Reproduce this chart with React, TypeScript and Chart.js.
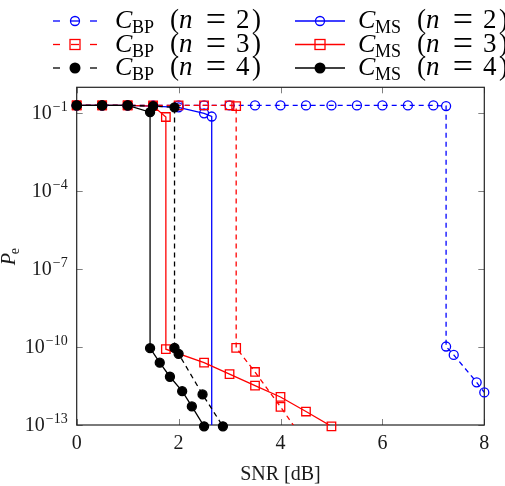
import React, { useEffect, useRef } from 'react';
import { Chart, registerables } from 'chart.js';

Chart.register(...registerables);

// Axis ranges and ticks
const X_MIN = 0;
const X_MAX = 8;
const Y_MIN = 1e-13;
const Y_MAX = 1;
const xTicks = [0, 2, 4, 6, 8];
const yTickExponents = [-1, -4, -7, -10, -13];

// Belief-propagation decoder (dashed)
const snrBP2 = [0, 0.5, 1, 1.5, 2, 2.5, 3, 3.5, 4, 4.5, 5, 5.5, 6, 6.5, 7, 7.25, 7.25, 7.4, 7.85, 8];
const peBP2 = [0.2, 0.2, 0.2, 0.2, 0.2, 0.2, 0.2, 0.2, 0.2, 0.2, 0.2, 0.2, 0.2, 0.2, 0.2, 0.19, 1.05e-10, 5e-11, 4.4e-12, 1.8e-12];

const snrBP3 = [0, 0.5, 1, 1.5, 2, 2.5, 3, 3.13, 3.13, 3.5, 4, 4.5];
const peBP3 = [0.2, 0.2, 0.2, 0.2, 0.2, 0.2, 0.2, 0.19, 9.3e-11, 1.1e-11, 5e-13, 2e-14];

const snrBP4 = [0, 0.5, 1, 1.5, 1.92, 1.92, 2, 2.47, 2.87];
const peBP4 = [0.2, 0.2, 0.2, 0.19, 0.17, 9.3e-11, 5.5e-11, 1.5e-12, 8.9e-14];

// Min-sum decoder (solid)
const snrMS2 = [0, 0.5, 1, 1.5, 2, 2.5, 2.65, 2.65];
const peMS2 = [0.2, 0.2, 0.2, 0.19, 0.17, 0.1, 0.075, 1e-15];

const snrMS3 = [0, 0.5, 1, 1.5, 1.75, 1.75, 2.5, 3, 3.5, 4, 4.5, 5];
const peMS3 = [0.2, 0.2, 0.2, 0.19, 0.072, 8.3e-11, 2.5e-11, 9.1e-12, 3.3e-12, 1.2e-12, 3.3e-13, 8.9e-14];

const snrMS4 = [0, 0.5, 1, 1.44, 1.44, 1.63, 1.83, 2.07, 2.26, 2.5];
const peMS4 = [0.2, 0.2, 0.2, 0.11, 9.1e-11, 2.5e-11, 7.2e-12, 2e-12, 5.2e-13, 8.9e-14];

const BLUE = '#0000ff';
const RED = '#ff0000';
const BLACK = '#000000';
const SERIF = '"Liberation Serif", "Times New Roman", serif';

type Marker = 'circle' | 'square' | 'dot';
interface Series {
  code: string;
  n: number;
  snr: number[];
  pe: number[];
  color: string;
  dashed: boolean;
  marker: Marker;
}

const series: Series[] = [
  { code: 'BP', n: 2, snr: snrBP2, pe: peBP2, color: BLUE, dashed: true, marker: 'circle' },
  { code: 'MS', n: 2, snr: snrMS2, pe: peMS2, color: BLUE, dashed: false, marker: 'circle' },
  { code: 'BP', n: 3, snr: snrBP3, pe: peBP3, color: RED, dashed: true, marker: 'square' },
  { code: 'MS', n: 3, snr: snrMS3, pe: peMS3, color: RED, dashed: false, marker: 'square' },
  { code: 'BP', n: 4, snr: snrBP4, pe: peBP4, color: BLACK, dashed: true, marker: 'dot' },
  { code: 'MS', n: 4, snr: snrMS4, pe: peMS4, color: BLACK, dashed: false, marker: 'dot' },
];

const DASH = [5, 4];
const LINE_W = 1.3;
const TICK_LEN = 6;
// markers more than this many decades below the axis floor are not drawn
const MARK_TOLERANCE_DECADES = 0.25;

function markerStyle(m: Marker) {
  if (m === 'square') return { pointStyle: 'rect', radius: 6 };
  return { pointStyle: 'circle', radius: 4.5 };
}

function buildDatasets() {
  const out: any[] = [];
  const last = series.length - 1;
  const floor = Math.log10(Y_MIN) - MARK_TOLERANCE_DECADES;
  series.forEach((s, i) => {
    const pts = s.snr.map((x, k) => ({ x, y: s.pe[k] }));
    // connecting line, clipped to the plot area
    out.push({
      data: pts,
      borderColor: s.color,
      borderWidth: LINE_W,
      borderDash: s.dashed ? DASH : [],
      pointRadius: 0,
      fill: false,
      tension: 0,
      order: 20 + (last - i),
    });
    // markers, drawn unclipped so edge points stay whole
    const ms = markerStyle(s.marker);
    out.push({
      data: pts,
      showLine: false,
      clip: false,
      pointStyle: ms.pointStyle,
      pointRadius: (c: any) => {
        const raw = c.raw;
        if (!raw) return ms.radius;
        return Math.log10(raw.y) < floor ? 0 : ms.radius;
      },
      pointBorderWidth: LINE_W,
      pointBorderColor: s.color,
      pointBackgroundColor: s.marker === 'dot' ? s.color : 'rgba(0,0,0,0)',
      order: last - i,
    });
  });
  return out;
}

function drawMarker(ctx: CanvasRenderingContext2D, m: Marker, x: number, y: number, color: string) {
  ctx.save();
  ctx.strokeStyle = color;
  ctx.fillStyle = color;
  ctx.lineWidth = LINE_W;
  ctx.setLineDash([]);
  if (m === 'square') {
    ctx.strokeRect(x - 5, y - 5, 10, 10);
  } else if (m === 'circle') {
    ctx.beginPath();
    ctx.arc(x, y, 4.5, 0, Math.PI * 2);
    ctx.stroke();
  } else {
    ctx.beginPath();
    ctx.arc(x, y, 5.5, 0, Math.PI * 2);
    ctx.fill();
  }
  ctx.restore();
}

function seg(ctx: CanvasRenderingContext2D, x0: number, y0: number, x1: number, y1: number) {
  ctx.beginPath();
  ctx.moveTo(x0, y0);
  ctx.lineTo(x1, y1);
  ctx.stroke();
}

const legendRowY = [21, 44.5, 68];
const legendCols = [
  { center: 75, half: 22, textX: 115 },
  { center: 320, half: 25, textX: 358 },
];

const framePlugin = {
  id: 'frameAndText',
  beforeDatasetsDraw(chart: any) {
    const { ctx, chartArea: a, scales } = chart;
    if (!a) return;
    ctx.save();
    ctx.strokeStyle = '#808080';
    ctx.lineWidth = 1;
    xTicks.forEach((v) => {
      const px = Math.round(scales.x.getPixelForValue(v)) + 0.5;
      seg(ctx, px, a.bottom, px, a.bottom - TICK_LEN);
      seg(ctx, px, a.top, px, a.top + TICK_LEN);
    });
    yTickExponents.forEach((e) => {
      const py = Math.round(scales.y.getPixelForValue(Math.pow(10, e))) + 0.5;
      seg(ctx, a.left, py, a.left + TICK_LEN, py);
      seg(ctx, a.right, py, a.right - TICK_LEN, py);
    });
    ctx.strokeStyle = '#222';
    ctx.lineWidth = 1.2;
    ctx.strokeRect(a.left, a.top, a.right - a.left, a.bottom - a.top);
    ctx.restore();
  },
  afterDraw(chart: any) {
    const { ctx, chartArea: a, scales } = chart;
    if (!a) return;
    ctx.save();
    ctx.fillStyle = '#1a1a1a';
    ctx.textBaseline = 'alphabetic';

    // x tick labels
    ctx.font = `20px ${SERIF}`;
    ctx.textAlign = 'center';
    xTicks.forEach((v) => {
      ctx.fillText(String(v), scales.x.getPixelForValue(v), a.bottom + 23.5);
    });

    // y tick labels as 10^e
    ctx.textAlign = 'left';
    yTickExponents.forEach((e) => {
      const py = scales.y.getPixelForValue(Math.pow(10, e));
      const exp = '\u2212' + String(Math.abs(e));
      ctx.font = `14px ${SERIF}`;
      const we = ctx.measureText(exp).width;
      ctx.font = `20px ${SERIF}`;
      const wb = ctx.measureText('10').width;
      const right = a.left - 9;
      const x0 = right - we - wb - 1;
      ctx.fillText('10', x0, py + 6);
      ctx.font = `14px ${SERIF}`;
      ctx.fillText(exp, x0 + wb + 1, py - 2);
    });

    // x axis title
    ctx.font = `20px ${SERIF}`;
    ctx.textAlign = 'center';
    ctx.fillText('SNR [dB]', (a.left + a.right) / 2, a.bottom + 55);

    // y axis title P_e
    ctx.save();
    ctx.translate(15, (a.top + a.bottom) / 2);
    ctx.rotate(-Math.PI / 2);
    ctx.textAlign = 'left';
    ctx.font = `italic 20px ${SERIF}`;
    const wp = ctx.measureText('P').width;
    ctx.font = `14px ${SERIF}`;
    const wsub = ctx.measureText('e').width;
    const start = -(wp + wsub) / 2;
    ctx.font = `italic 20px ${SERIF}`;
    ctx.fillText('P', start, 0);
    ctx.font = `14px ${SERIF}`;
    ctx.fillText('e', start + wp - 1, 4);
    ctx.restore();

    // legend
    series.forEach((s) => {
      const row = s.n - 2;
      const col = legendCols[s.code === 'BP' ? 0 : 1];
      const y = legendRowY[row];
      const c = col.center;
      ctx.save();
      ctx.strokeStyle = s.color;
      ctx.lineWidth = LINE_W;
      if (s.dashed) {
        seg(ctx, c - col.half, y, c - col.half + 7, y);
        seg(ctx, c + col.half - 7, y, c + col.half, y);
        if (s.marker !== 'dot') seg(ctx, c - 4, y, c + 4, y);
      } else {
        seg(ctx, c - col.half, y, c + col.half, y);
      }
      ctx.restore();
      drawMarker(ctx, s.marker, c, y, s.color);

      ctx.fillStyle = '#000';
      ctx.textAlign = 'left';
      const base = y + 7;
      let x = col.textX;
      ctx.font = `italic 26px ${SERIF}`;
      ctx.fillText('C', x, base);
      x += 17;
      ctx.font = `18px ${SERIF}`;
      ctx.fillText(s.code, x, base + 5);
      x += ctx.measureText(s.code).width + 16;
      ctx.font = `27px ${SERIF}`;
      ctx.fillText('(', x, base);
      ctx.font = `italic 27px ${SERIF}`;
      ctx.fillText('n', x + 9, base);
      ctx.font = `36px ${SERIF}`;
      ctx.textAlign = 'center';
      ctx.fillText('=', x + 46, base + 3);
      ctx.font = `27px ${SERIF}`;
      ctx.textAlign = 'left';
      ctx.fillText(String(s.n), x + 66, base);
      ctx.fillText(')', x + 82, base);
    });
    ctx.restore();
  },
};

export default function App() {
  const ref = useRef<HTMLCanvasElement | null>(null);

  useEffect(() => {
    if (!ref.current) return;
    const chart = new Chart(ref.current, {
      type: 'line',
      data: { datasets: buildDatasets() },
      options: {
        responsive: false,
        animation: false,
        events: [],
        layout: { padding: { left: 76.7, right: 20.7, top: 87.3, bottom: 61 } },
        plugins: { legend: { display: false }, tooltip: { enabled: false } },
        scales: {
          x: { type: 'linear', min: X_MIN, max: X_MAX, display: false },
          y: { type: 'logarithmic', min: Y_MIN, max: Y_MAX, display: false },
        },
      },
      plugins: [framePlugin],
    });
    return () => chart.destroy();
  }, []);

  return (
    <div style={{ position: 'fixed', left: 0, top: 0, width: 505, height: 486, background: '#fff' }}>
      <canvas ref={ref} width={505} height={486} style={{ display: 'block' }} />
    </div>
  );
}
